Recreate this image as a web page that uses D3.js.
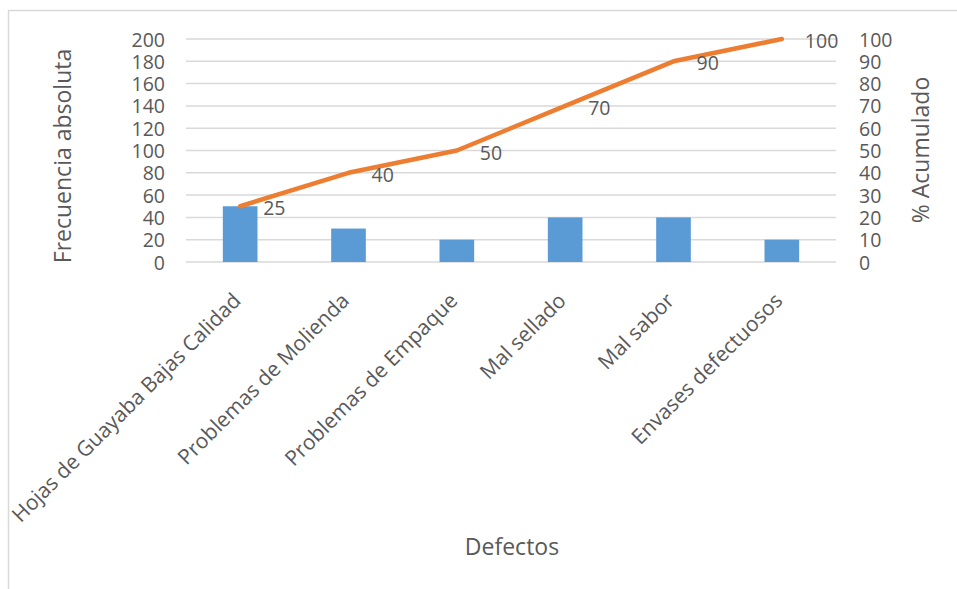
<!DOCTYPE html>
<html>
<head>
<meta charset="utf-8">
<script src="https://cdn.jsdelivr.net/npm/d3@7/dist/d3.min.js"></script>
<style>
  html, body { margin: 0; padding: 0; background: #fff; }
  svg { display: block; }
  text { font-family: "Open Sans", Lato, sans-serif; fill: #595959; }
</style>
</head>
<body>
<svg id="chart" width="957" height="589"></svg>
<script>
// Defect categories and their absolute frequencies
const categories = [
  "Hojas de Guayaba Bajas Calidad",
  "Problemas de Molienda",
  "Problemas de Empaque",
  "Mal sellado",
  "Mal sabor",
  "Envases defectuosos"
];
const frequencies = [50, 30, 20, 40, 40, 20];
// Cumulative percentage for each category
const cumulativePct = [25, 40, 50, 70, 90, 100];

const leftTicks = [0, 20, 40, 60, 80, 100, 120, 140, 160, 180, 200];
const rightTicks = [0, 10, 20, 30, 40, 50, 60, 70, 80, 90, 100];

const svg = d3.select("#chart");

const plot = { left: 186, right: 836, top: 39, bottom: 262 };
const tickSize = 19.5;
const catSize = 21;
const titleSize = 23;

// outer frame
svg.append("rect")
  .attr("x", 8.5).attr("y", 10.5)
  .attr("width", 980).attr("height", 600)
  .attr("fill", "none").attr("stroke", "#d9d9d9").attr("stroke-width", 1.5);

const x = d3.scaleBand().domain(categories)
  .range([plot.left, plot.right]).paddingInner(0).paddingOuter(0);
const yL = d3.scaleLinear().domain([0, 200]).range([plot.bottom, plot.top]);
const yR = d3.scaleLinear().domain([0, 100]).range([plot.bottom, plot.top]);

// horizontal gridlines
svg.append("g").selectAll("line").data(leftTicks).join("line")
  .attr("x1", plot.left).attr("x2", plot.right)
  .attr("y1", d => yL(d)).attr("y2", d => yL(d))
  .attr("stroke", "#d9d9d9").attr("stroke-width", 1.5);

// left axis
const leftAxis = svg.append("g")
  .attr("transform", `translate(${plot.left - 21},0)`)
  .call(d3.axisLeft(yL).tickValues(leftTicks).tickSize(0).tickPadding(0));
leftAxis.select(".domain").remove();
leftAxis.selectAll("text").attr("font-size", tickSize).attr("dy", "0.36em");

// right axis
const rightAxis = svg.append("g")
  .attr("transform", `translate(${plot.right + 23},0)`)
  .call(d3.axisRight(yR).tickValues(rightTicks).tickSize(0).tickPadding(0));
rightAxis.select(".domain").remove();
rightAxis.selectAll("text").attr("font-size", tickSize).attr("dy", "0.36em");

// bars
const barW = x.bandwidth() * 0.32;
svg.append("g").selectAll("rect").data(categories).join("rect")
  .attr("x", d => x(d) + x.bandwidth() / 2 - barW / 2)
  .attr("width", barW)
  .attr("y", (d, i) => yL(frequencies[i]))
  .attr("height", (d, i) => yL(0) - yL(frequencies[i]))
  .attr("fill", "#5b9bd5");

// cumulative line
const line = d3.line()
  .x((d, i) => x(categories[i]) + x.bandwidth() / 2)
  .y(d => yR(d));
svg.append("path").datum(cumulativePct)
  .attr("d", line)
  .attr("fill", "none").attr("stroke", "#ed7d31")
  .attr("stroke-width", 4.5)
  .attr("stroke-linejoin", "round").attr("stroke-linecap", "round");

// data labels
svg.append("g").selectAll("text").data(cumulativePct).join("text")
  .attr("x", (d, i) => x(categories[i]) + x.bandwidth() / 2 + 23)
  .attr("y", d => yR(d) + 2)
  .attr("dy", "0.36em")
  .attr("font-size", tickSize)
  .text(d => d);

// category labels, rotated
svg.append("g").selectAll("text").data(categories).join("text")
  .attr("transform", d => `translate(${x(d) + x.bandwidth() / 2 + 2},${plot.bottom + 40}) rotate(-45)`)
  .attr("text-anchor", "end")
  .attr("font-size", catSize)
  .text(d => d);

// axis titles
svg.append("text")
  .attr("transform", `translate(71,156) rotate(-90)`)
  .attr("text-anchor", "middle").attr("font-size", titleSize)
  .text("Frecuencia absoluta");
svg.append("text")
  .attr("transform", `translate(929,150) rotate(-90)`)
  .attr("text-anchor", "middle").attr("font-size", titleSize)
  .text("% Acumulado");
svg.append("text")
  .attr("x", 512).attr("y", 555)
  .attr("text-anchor", "middle").attr("font-size", titleSize)
  .text("Defectos");
</script>
</body>
</html>
